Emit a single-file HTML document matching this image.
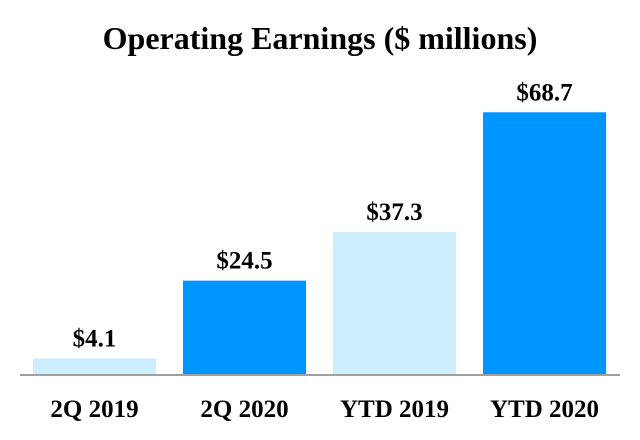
<!DOCTYPE html>
<html><head><meta charset="utf-8"><style>
body{margin:0;background:#fff;}
svg{display:block;font-family:"Liberation Serif",serif;font-weight:bold;}
</style></head><body>
<svg id="chart" width="640" height="440">
<text x="320" y="49" text-anchor="middle" font-size="32">Operating Earnings ($ millions)</text>
<g id="bars"></g>
<line x1="20" y1="375" x2="620" y2="375" stroke="#a0a0a0" stroke-width="2"/>
</svg>
<script>
const categories = ["2Q 2019","2Q 2020","YTD 2019","YTD 2020"];
const values = [4.1, 24.5, 37.3, 68.7];
const valueLabels = ["$4.1","$24.5","$37.3","$68.7"];
const colors = ["#cceeff","#0096ff","#cceeff","#0096ff"];
const baseY = 374, pxPerUnit = 3.81, barW = 123, step = 150, x0 = 33;
function yScale(v){ return baseY - v * pxPerUnit; }
function xScale(i){ return x0 + i * step; }
const ns = "http://www.w3.org/2000/svg";
const g = document.getElementById("bars");
categories.forEach((c, i) => {
  const r = document.createElementNS(ns, "rect");
  r.setAttribute("x", xScale(i));
  r.setAttribute("y", yScale(values[i]));
  r.setAttribute("width", barW);
  r.setAttribute("height", baseY - yScale(values[i]));
  r.setAttribute("fill", colors[i]);
  
  
  g.appendChild(r);
  const t = document.createElementNS(ns, "text");
  t.setAttribute("x", xScale(i) + barW / 2);
  t.setAttribute("y", yScale(values[i]) - 12);
  t.setAttribute("text-anchor", "middle");
  t.setAttribute("font-size", "25");
  t.textContent = valueLabels[i];
  
  
  g.appendChild(t);
  const l = document.createElementNS(ns, "text");
  l.setAttribute("x", xScale(i) + barW / 2);
  l.setAttribute("y", 417);
  l.setAttribute("text-anchor", "middle");
  l.setAttribute("font-size", "25");
  l.textContent = c;
  
  
  g.appendChild(l);
});
</script>
</body></html>
